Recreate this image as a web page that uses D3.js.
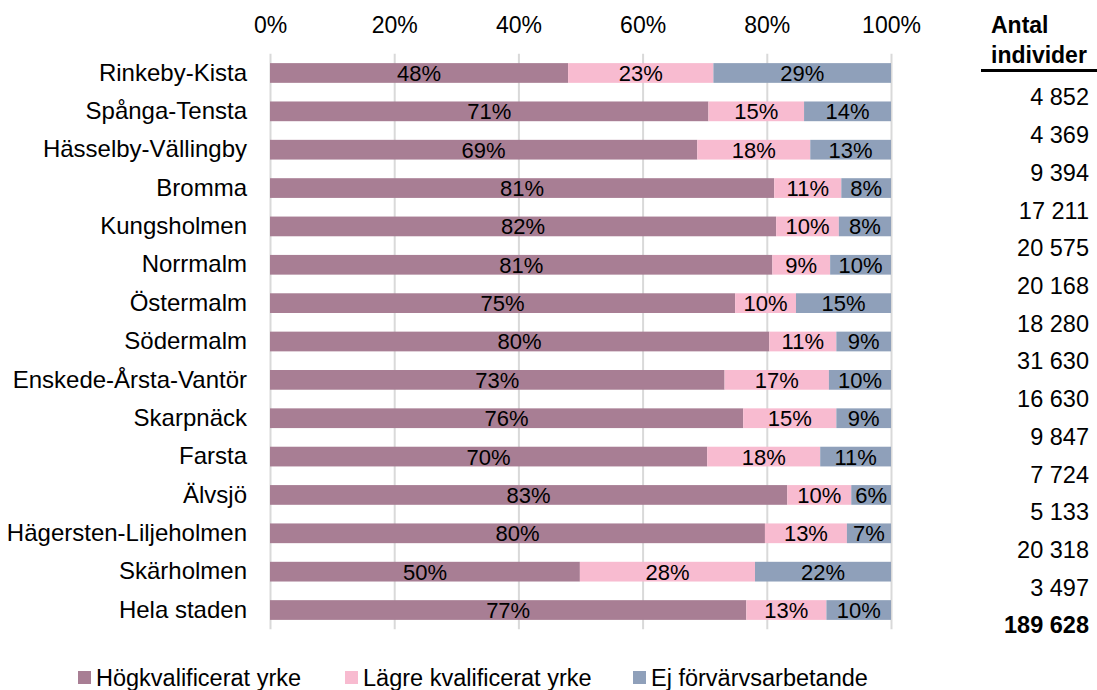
<!DOCTYPE html>
<html>
<head>
<meta charset="utf-8">
<script src="https://cdn.jsdelivr.net/npm/d3@7"></script>
<style>
  html, body { margin: 0; padding: 0; background: #fff; }
  svg { display: block; font-family: "Liberation Sans", Arial, sans-serif; }
</style>
</head>
<body>
<svg id="chart" width="1097" height="690"></svg>
<script>
const categories = ["Rinkeby-Kista","Spånga-Tensta","Hässelby-Vällingby","Bromma","Kungsholmen","Norrmalm","Östermalm","Södermalm","Enskede-Årsta-Vantör","Skarpnäck","Farsta","Älvsjö","Hägersten-Liljeholmen","Skärholmen","Hela staden"];
const hogkval = [48.0, 70.6, 68.8, 81.2, 81.5, 80.9, 74.9, 80.4, 73.2, 76.2, 70.4, 83.3, 79.7, 49.9, 76.7];
const lagre   = [23.4, 15.4, 18.2, 10.8, 10.1,  9.3,  9.8, 10.8, 16.8, 15.0, 18.2, 10.3, 13.2, 28.2, 12.9];
const ej      = [28.6, 14.0, 13.0,  8.0,  8.4,  9.8, 15.3,  8.8, 10.0,  8.8, 11.4,  6.4,  7.1, 21.9, 10.4];
const antal   = [4852, 4369, 9394, 17211, 20575, 20168, 18280, 31630, 16630, 9847, 7724, 5133, 20318, 3497, 189628];
const seriesNames = ["Högkvalificerat yrke", "Lägre kvalificerat yrke", "Ej förvärvsarbetande"];
const seriesColors = ["#a87e94", "#f8bbd0", "#8fa0ba"];
const tickValues = [0, 20, 40, 60, 80, 100];
const header = ["Antal", "individer"];

const svg = d3.select("#chart");
const x = d3.scaleLinear().domain([0, 100]).range([270, 891]);
const y = d3.scaleBand().domain(categories).range([53.8, 629.2]).paddingInner(0.486).paddingOuter(0.243);
const yNum = d3.scalePoint().domain(categories).range([97, 625]);

// grid + top axis
const gx = svg.append("g").attr("transform", "translate(0,53.8)")
  .call(d3.axisTop(x).tickValues(tickValues).tickFormat(d => d + "%").tickSizeInner(-(629.2 - 53.8)).tickSizeOuter(0).tickPadding(21));
gx.select(".domain").remove();
gx.selectAll(".tick line").attr("stroke", "#d9d9d9").attr("stroke-width", 2);
gx.selectAll(".tick text").attr("font-size", "23px").attr("fill", "#000").attr("font-family", "Liberation Sans, Arial, sans-serif");

// stacked data
const rows = categories.map((c, i) => ({ cat: c, vals: [hogkval[i], lagre[i], ej[i]] }));
const stackData = rows.map(r => {
  let acc = 0;
  return r.vals.map((v, k) => { const s = { cat: r.cat, k, v, x0: acc, x1: acc + v }; acc += v; return s; });
}).flat();

svg.append("g").selectAll("rect").data(stackData).join("rect")
  .attr("x", d => x(d.x0))
  .attr("y", d => y(d.cat))
  .attr("width", d => x(d.x1) - x(d.x0))
  .attr("height", y.bandwidth())
  .attr("fill", d => seriesColors[d.k]);

svg.append("g").selectAll("text").data(stackData).join("text")
  .attr("x", d => (x(d.x0) + x(d.x1)) / 2)
  .attr("y", d => y(d.cat) + y.bandwidth() / 2)
  .attr("dy", "0.36em")
  .attr("text-anchor", "middle")
  .attr("font-size", "22px")
  .attr("fill", "#000")
  .text(d => Math.round(d.v) + "%");

// category axis
const gy = svg.append("g").attr("transform", "translate(270,0)")
  .call(d3.axisLeft(y).tickSize(0).tickPadding(23));
gy.select(".domain").remove();
gy.selectAll(".tick text").attr("font-size", "24px").attr("fill", "#000").attr("font-family", "Liberation Sans, Arial, sans-serif");

// right column
svg.append("text").attr("x", 991).attr("y", 33).attr("font-size", "23px").attr("font-weight", "bold").text(header[0]);
svg.append("text").attr("x", 991).attr("y", 63).attr("font-size", "23px").attr("font-weight", "bold").text(header[1]);
svg.append("line").attr("x1", 981).attr("x2", 1097).attr("y1", 70.5).attr("y2", 70.5).attr("stroke", "#000").attr("stroke-width", 3);

const fmt = d3.formatLocale({ decimal: ",", thousands: " ", grouping: [3], currency: ["", ""] }).format(",d");
svg.append("g").selectAll("text").data(categories).join("text")
  .attr("x", 1089)
  .attr("y", d => yNum(d))
  .attr("dy", "0.36em")
  .attr("text-anchor", "end")
  .attr("font-size", "23.5px")
  .attr("font-weight", (d, i) => i === categories.length - 1 ? "bold" : "normal")
  .text((d, i) => fmt(antal[i]));

// legend
const legendX = [78, 345, 633];
const lg = svg.append("g").selectAll("g").data(seriesNames).join("g")
  .attr("transform", (d, i) => `translate(${legendX[i]},0)`);
lg.append("rect").attr("x", 0).attr("y", 671).attr("width", 13).attr("height", 13).attr("fill", (d, i) => seriesColors[i]);
lg.append("text").attr("x", 18).attr("y", 686).attr("font-size", "23.5px").attr("fill", "#000").text(d => d);
</script>
</body>
</html>
